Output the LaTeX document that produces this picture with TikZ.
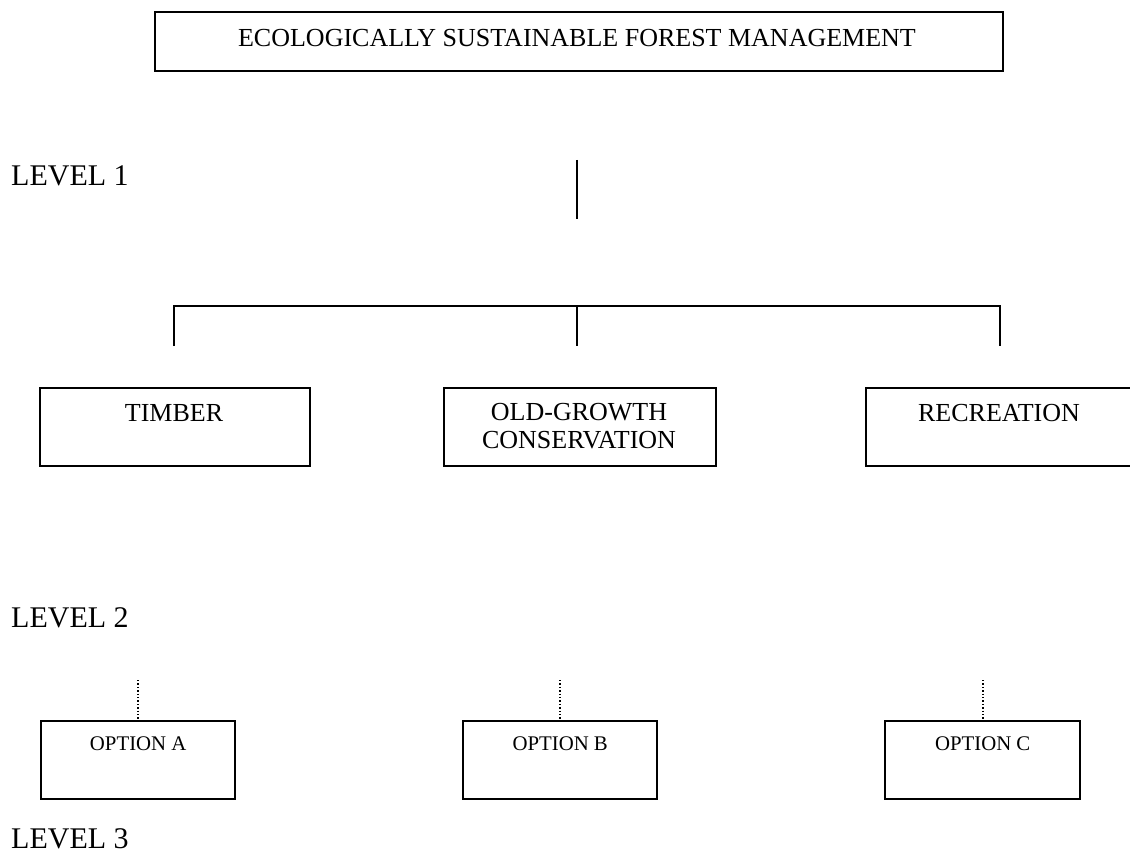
\documentclass[tikz,border=0pt]{standalone}
\usepackage{fontspec}
\setmainfont{Liberation Serif}
\begin{document}
\begin{tikzpicture}[x=1pt,y=-1pt,
  box/.style={draw,line width=2.4pt,anchor=north west,inner sep=0pt},
  conn/.style={line width=2pt},
  dotline/.style={line width=1.6pt,dash pattern=on 1.4pt off 2pt},
  maintext/.style={font=\fontsize{26}{28}\selectfont,inner sep=0pt,anchor=base,align=center},
  opttext/.style={font=\fontsize{20.8}{24}\selectfont,inner sep=0pt,anchor=base},
  leveltext/.style={font=\fontsize{30}{33}\selectfont,inner sep=0pt,text depth=0pt,anchor=base west}]
\useasboundingbox (0,0) rectangle (1130,853);
% top box
\node[box,minimum width=848pt,minimum height=59pt] (top) at (154,11) {};
\node[maintext] (toptext) at (577,47) {ECOLOGICALLY SUSTAINABLE FOREST MANAGEMENT};
% level labels
\node[leveltext] (l1) at (11,186) {LEVEL 1};
\node[leveltext] (l2) at (11,627) {LEVEL 2};
\node[leveltext] (l3) at (11,848) {LEVEL 3};
% connectors level 1
\coordinate (t1) at (577,160);
\coordinate (t2) at (577,219);
\coordinate (hl) at (174,306);
\coordinate (hm) at (577,306);
\coordinate (hr) at (1000,306);
\coordinate (dl) at (174,346);
\coordinate (dm) at (577,346);
\coordinate (dr) at (1000,346);
\draw[conn] (t1) -- (t2);
\draw[conn] (dl) -- (hl) -- (hr) -- (dr);
\draw[conn] (hm) -- (dm);
% level 2 boxes
\node[box,minimum width=270pt,minimum height=78pt] (timber) at (39,387) {};
\node[box,minimum width=272pt,minimum height=78pt] (oldg) at (443,387) {};
\node[box,minimum width=270pt,minimum height=78pt] (recr) at (865,387) {};
\node[maintext] (timbertext) at (174,421) {TIMBER};
\node[maintext] (oldgtext) at (579,448) {OLD-GROWTH\\CONSERVATION};
\node[maintext] (recrtext) at (999,421) {RECREATION};
% level 3 boxes
\node[box,minimum width=194pt,minimum height=78pt] (optA) at (40,720) {};
\node[box,minimum width=194pt,minimum height=78pt] (optB) at (462,720) {};
\node[box,minimum width=195pt,minimum height=78pt] (optC) at (884,720) {};
\node[opttext] (optAtext) at (optA.north |- 0,750.5) {OPTION A};
\node[opttext] (optBtext) at (optB.north |- 0,750.5) {OPTION B};
\node[opttext] (optCtext) at (optC.north |- 0,750.5) {OPTION C};
\coordinate (da) at (optA.north |- 0,680);
\coordinate (db) at (optB.north |- 0,680);
\coordinate (dc) at (optC.north |- 0,680);
\draw[dotline] (da) -- (optA.north);
\draw[dotline] (db) -- (optB.north);
\draw[dotline] (dc) -- (optC.north);
\end{tikzpicture}
\end{document}
